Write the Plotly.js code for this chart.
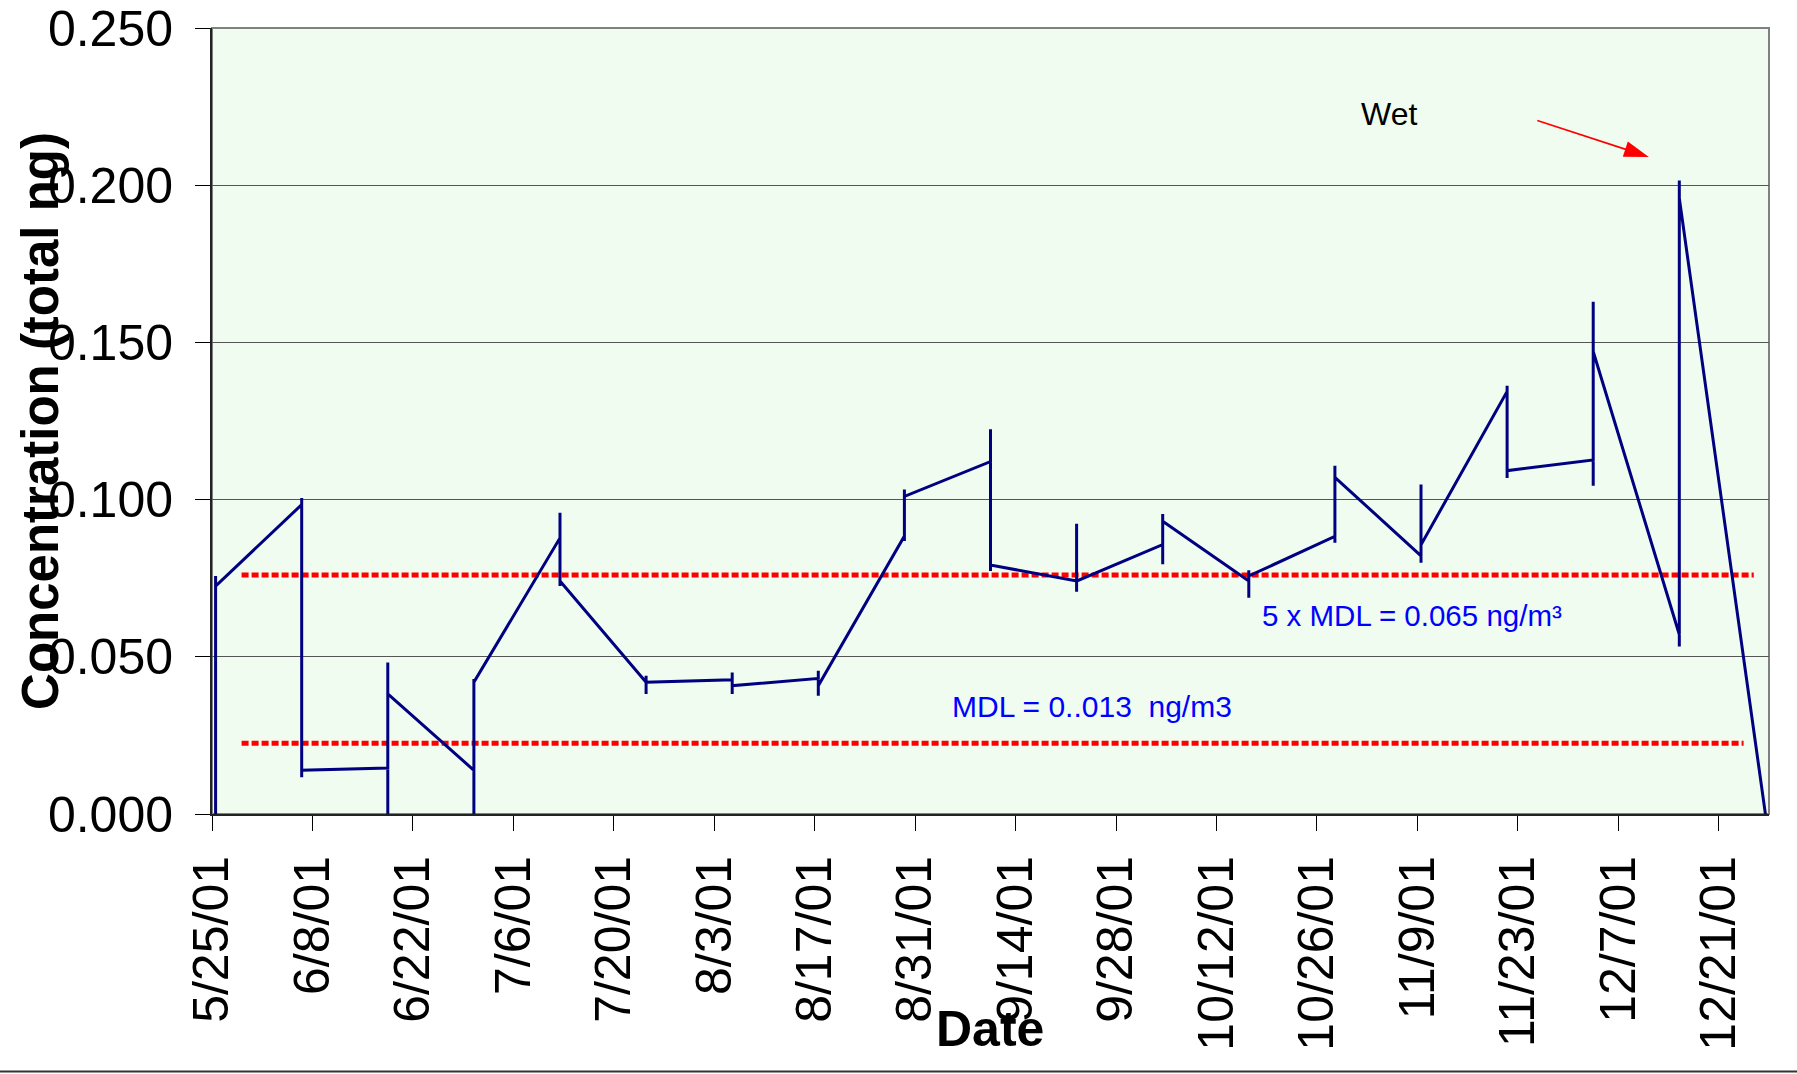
<!DOCTYPE html>
<html>
<head>
<meta charset="utf-8">
<script src="https://cdn.plot.ly/plotly-3.0.1.min.js"></script>
<style>
  html, body { margin: 0; padding: 0; background: #ffffff; }
  #chart { width: 1797px; height: 1074px; }
</style>
</head>
<body>
<div id="chart"></div>
<script>
// ---- data ----
const sampleDates = ['2001-05-25','2001-06-06','2001-06-18','2001-06-30','2001-07-12','2001-07-24',
  '2001-08-05','2001-08-17','2001-08-29','2001-09-10','2001-09-22','2001-10-04','2001-10-16',
  '2001-10-28','2001-11-09','2001-11-21','2001-12-03','2001-12-15','2001-12-27'];
// value where the line arrives at each sample date
const arriveVals = [null, 0.0984, 0.0146, 0.0139, 0.0878, 0.0419, 0.0427, 0.0431, 0.0884, 0.1121,
  0.0741, 0.0857, 0.0741, 0.0883, 0.0821, 0.1344, 0.1126, 0.0571, 0.000];
// highest and lowest value at each sample date (vertical span)
const highVals = [0.0757, 0.1005, 0.0482, 0.0429, 0.0958, 0.0440, 0.0450, 0.0456, 0.1032, 0.1224,
  0.0923, 0.0954, 0.0775, 0.1108, 0.1048, 0.1362, 0.1629, 0.2015, 0.000];
const lowVals = [0.000, 0.0117, -0.0012, -0.0012, 0.0725, 0.0382, 0.0382, 0.0376, 0.0868, 0.0773,
  0.0707, 0.0794, 0.0688, 0.0863, 0.0799, 0.1069, 0.1044, 0.0533, -0.0005];
// value where the line leaves each sample date
const departVals = [0.0725, 0.0139, 0.0382, 0.0419, 0.0741, 0.0419, 0.0408, 0.0408, 0.1010, 0.0792,
  0.0741, 0.0931, 0.0757, 0.1071, 0.0856, 0.1092, 0.1471, 0.1959, null];

// reference lines
const fiveMdlDates = ['2001-05-29 03:00', '2001-12-25 21:00'];
const fiveMdlVals = [0.0760, 0.0760];
const mdlDates = ['2001-05-29 03:00', '2001-12-24 11:00'];
const mdlVals = [0.0225, 0.0225];

// axis ticks
const tickDates = ['2001-05-25','2001-06-08','2001-06-22','2001-07-06','2001-07-20','2001-08-03',
  '2001-08-17','2001-08-31','2001-09-14','2001-09-28','2001-10-12','2001-10-26','2001-11-09',
  '2001-11-23','2001-12-07','2001-12-21'];
const tickLabels = ['5/25/01','6/8/01','6/22/01','7/6/01','7/20/01','8/3/01','8/17/01','8/31/01',
  '9/14/01','9/28/01','10/12/01','10/26/01','11/9/01','11/23/01','12/7/01','12/21/01'];
const yTickVals = [0, 0.05, 0.10, 0.15, 0.20, 0.25];

// "Wet" pointer arrow (annotation: tail, head)
const wetArrowDates = ['2001-11-25 17:00', '2001-12-11 06:00'];
const wetArrowVals = [0.2206, 0.2090];

// ---- build the line path (points sit in the middle of their day) ----
const pathX = [], pathY = [];
sampleDates.forEach((d, i) => {
  const x = d + ' 12:00';
  [arriveVals[i], highVals[i], lowVals[i], departVals[i]].forEach(v => {
    if (v !== null) { pathX.push(x); pathY.push(v); }
  });
});

const FONT = 'Liberation Sans, Arial, sans-serif';

const traces = [
  { x: fiveMdlDates, y: fiveMdlVals, type: 'scatter', mode: 'lines', hoverinfo: 'skip',
    line: { color: '#ff0000', width: 5, dash: '7px,3px' }, showlegend: false },
  { x: mdlDates, y: mdlVals, type: 'scatter', mode: 'lines', hoverinfo: 'skip',
    line: { color: '#ff0000', width: 5, dash: '7px,3px' }, showlegend: false },
  { x: pathX, y: pathY, type: 'scatter', mode: 'lines', cliponaxis: false,
    line: { color: '#000080', width: 3 }, showlegend: false },
  { x: wetArrowDates, y: wetArrowVals, type: 'scatter', mode: 'lines+markers', hoverinfo: 'skip',
    line: { color: '#ff0000', width: 1.6 },
    marker: { symbol: 'arrow', size: 26, angleref: 'previous', color: '#ff0000', line: { width: 0 } },
    showlegend: false }
];

const layout = {
  width: 1797, height: 1074,
  margin: { l: 212, r: 28, t: 28, b: 260, pad: 0 },
  paper_bgcolor: '#ffffff',
  plot_bgcolor: '#effcef',
  font: { family: FONT, color: '#000000' },
  showlegend: false,
  xaxis: {
    type: 'date',
    range: ['2001-05-25', '2001-12-28'],
    tickmode: 'array', tickvals: tickDates, ticktext: tickLabels,
    tickangle: -90,
    tickfont: { family: FONT, size: 50, color: '#000000' },
    ticks: 'outside', ticklen: 15, tickwidth: 1, tickcolor: '#000000',
    ticklabelstandoff: 5,
    ticklabeloverflow: 'allow',
    showline: true, linecolor: '#222222', linewidth: 2,
    showgrid: false, zeroline: false
  },
  yaxis: {
    range: [0, 0.25],
    tickmode: 'array', tickvals: yTickVals, tickformat: '.3f',
    tickfont: { family: FONT, size: 50, color: '#000000' },
    ticks: 'outside', ticklen: 15, tickwidth: 1, tickcolor: '#000000',
    ticklabelstandoff: 12,
    ticklabeloverflow: 'allow',
    showline: true, linecolor: '#222222', linewidth: 2,
    showgrid: true, gridcolor: '#555555', gridwidth: 1,
    zeroline: false
  },
  shapes: [
    { type: 'rect', xref: 'paper', yref: 'paper', x0: 0, x1: 1, y0: 0, y1: 1,
      line: { color: '#808080', width: 2 }, layer: 'below' },
    { type: 'line', xref: 'paper', yref: 'paper', x0: -0.14, x1: 1.02, y0: -0.3275, y1: -0.3275,
      line: { color: '#333333', width: 2 } }
  ],
  annotations: [
    { x: -0.1105, y: 0.5, xref: 'paper', yref: 'paper', text: 'Concentration (total ng)', textangle: -90,
      showarrow: false, font: { family: FONT, size: 51, weight: 'bold', color: '#000000' },
      xanchor: 'center', yanchor: 'middle' },
    { x: 0.4995, y: -0.2731, xref: 'paper', yref: 'paper', text: 'Date',
      showarrow: false, font: { family: FONT, size: 50, weight: 'bold', color: '#000000' },
      xanchor: 'center', yanchor: 'middle' },
    { x: '2001-11-05 02:00', y: 0.2228, xref: 'x', yref: 'y', text: 'Wet', showarrow: false,
      font: { family: FONT, size: 32, color: '#000000' }, xanchor: 'center', yanchor: 'middle' },
    { x: '2001-10-18 02:00', y: 0.0632, xref: 'x', yref: 'y', text: '5 x MDL = 0.065 ng/m³',
      showarrow: false, font: { family: FONT, size: 29.5, color: '#0000ff' }, xanchor: 'left', yanchor: 'middle' },
    { x: '2001-09-04 22:00', y: 0.0341, xref: 'x', yref: 'y', text: 'MDL = 0..013&nbsp; ng/m3',
      showarrow: false, font: { family: FONT, size: 30, color: '#0000ff' }, xanchor: 'left', yanchor: 'middle' }
  ]
};

Plotly.newPlot('chart', traces, layout, { displayModeBar: false, staticPlot: true });
</script>
</body>
</html>
